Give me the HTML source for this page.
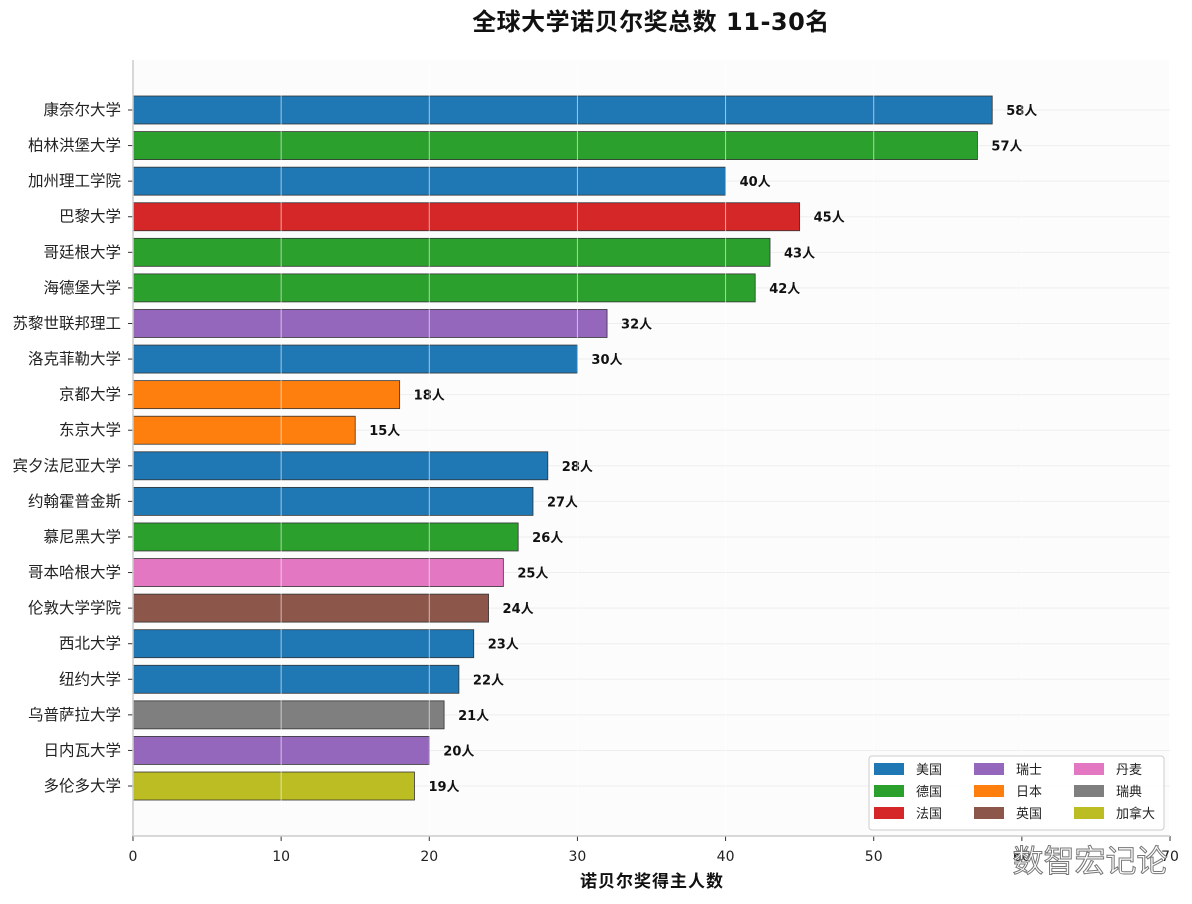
<!DOCTYPE html>
<html><head><meta charset="utf-8"><style>
body{margin:0;background:#fff;font-family:"DejaVu Sans","Noto Sans CJK SC",sans-serif}
svg text{font-family:"DejaVu Sans","Noto Sans CJK SC",sans-serif}
</style></head><body>
<svg id="c" width="1192" height="900">
<rect x="133" y="60" width="1036" height="776" fill="#fcfcfc"/>
<text x="651" y="30" text-anchor="middle" font-size="24" font-weight="bold" letter-spacing="0.5" fill="#111">全球大学诺贝尔奖总数 11-30名</text>
<text x="652" y="887" text-anchor="middle" font-size="17" font-weight="bold" letter-spacing="1" fill="#111">诺贝尔奖得主人数</text>
<g id="grid"></g><g id="bars"></g><g id="axes"></g>
<g id="legend">
<rect x="869" y="756" width="295" height="74" rx="3" fill="#fff" fill-opacity="0.85" stroke="#ccc"/>
</g>
<text x="1090" y="872" text-anchor="middle" font-size="31" fill="#fff" stroke="#777" stroke-width="1">数智宏记论</text>
</svg>
<script>
const categories=["康奈尔大学","柏林洪堡大学","加州理工学院","巴黎大学","哥廷根大学","海德堡大学","苏黎世联邦理工","洛克菲勒大学","京都大学","东京大学","宾夕法尼亚大学","约翰霍普金斯","慕尼黑大学","哥本哈根大学","伦敦大学学院","西北大学","纽约大学","乌普萨拉大学","日内瓦大学","多伦多大学"];
const values=[58,57,40,45,43,42,32,30,18,15,28,27,26,25,24,23,22,21,20,19];
const countries=["美国","德国","美国","法国","德国","德国","瑞士","美国","日本","日本","美国","美国","德国","丹麦","英国","美国","美国","瑞典","瑞士","加拿大"];
const xTicks=[0,10,20,30,40,50,60,70];
const legendOrder=["美国","德国","法国","瑞士","日本","英国","丹麦","瑞典","加拿大"];
const colors={"美国":"#1f77b4","德国":"#2ca02c","法国":"#d62728","瑞士":"#9467bd","日本":"#ff7f0e","英国":"#8c564b","丹麦":"#e377c2","瑞典":"#7f7f7f","加拿大":"#bcbd22"};
const NS="http://www.w3.org/2000/svg";
const x0=133,x1=1170,yTop=60,yBot=836;
const xs=v=>x0+(v/70)*(x1-x0);
const step=35.58,y0=110;
const ys=i=>y0+i*step;
function mk(tag,attrs,parent,txt){const e=document.createElementNS(NS,tag);for(const k in attrs)e.setAttribute(k,attrs[k]);if(txt!==undefined)e.textContent=txt;parent.appendChild(e);return e;}
const grid=document.getElementById('grid'),bars=document.getElementById('bars'),axes=document.getElementById('axes'),leg=document.getElementById('legend');
categories.forEach((c,i)=>{const l=mk('line',{x1:x0,x2:x1,y1:ys(i),y2:ys(i),stroke:'#eee'},grid);

});
categories.forEach((c,i)=>{
const r=mk('rect',{x:x0,y:ys(i)-14,width:xs(values[i])-x0,height:28,fill:colors[countries[i]],stroke:'#333','stroke-width':0.8},bars);


const t=mk('text',{x:xs(values[i])+14,y:ys(i)+5,'font-size':13,'font-weight':'bold',fill:'#111'},bars,values[i]+'人');


const lb=mk('text',{x:x0-12,y:ys(i)+5,'font-size':15.5,'text-anchor':'end',fill:'#222'},axes,c);


mk('line',{x1:x0-5,x2:x0,y1:ys(i),y2:ys(i),stroke:'#333'},axes);
});
xTicks.forEach(t=>{const l=mk('line',{x1:xs(t),x2:xs(t),y1:yTop,y2:yBot,stroke:'#fff','stroke-opacity':0.6},bars);

});
xTicks.forEach(t=>{mk('line',{x1:xs(t),x2:xs(t),y1:yBot,y2:yBot+5,stroke:'#333'},axes);
const e=mk('text',{x:xs(t),y:yBot+25,'font-size':14,'text-anchor':'middle',fill:'#222'},axes,t);

});
mk('line',{x1:x0,x2:x0,y1:yTop,y2:yBot,stroke:'#ccc','stroke-width':1.5},axes);
mk('line',{x1:x0,x2:x1,y1:yBot,y2:yBot,stroke:'#ccc','stroke-width':1.5},axes);
legendOrder.forEach((k,i)=>{const col=Math.floor(i/3),row=i%3;const lx=874+col*100,ly=763+row*22;
const r=mk('rect',{x:lx,y:ly,width:30,height:12,fill:colors[k]},leg);


const t=mk('text',{x:lx+42,y:ly+11,'font-size':13,fill:'#222'},leg,k);

});
</script>
</body></html>
